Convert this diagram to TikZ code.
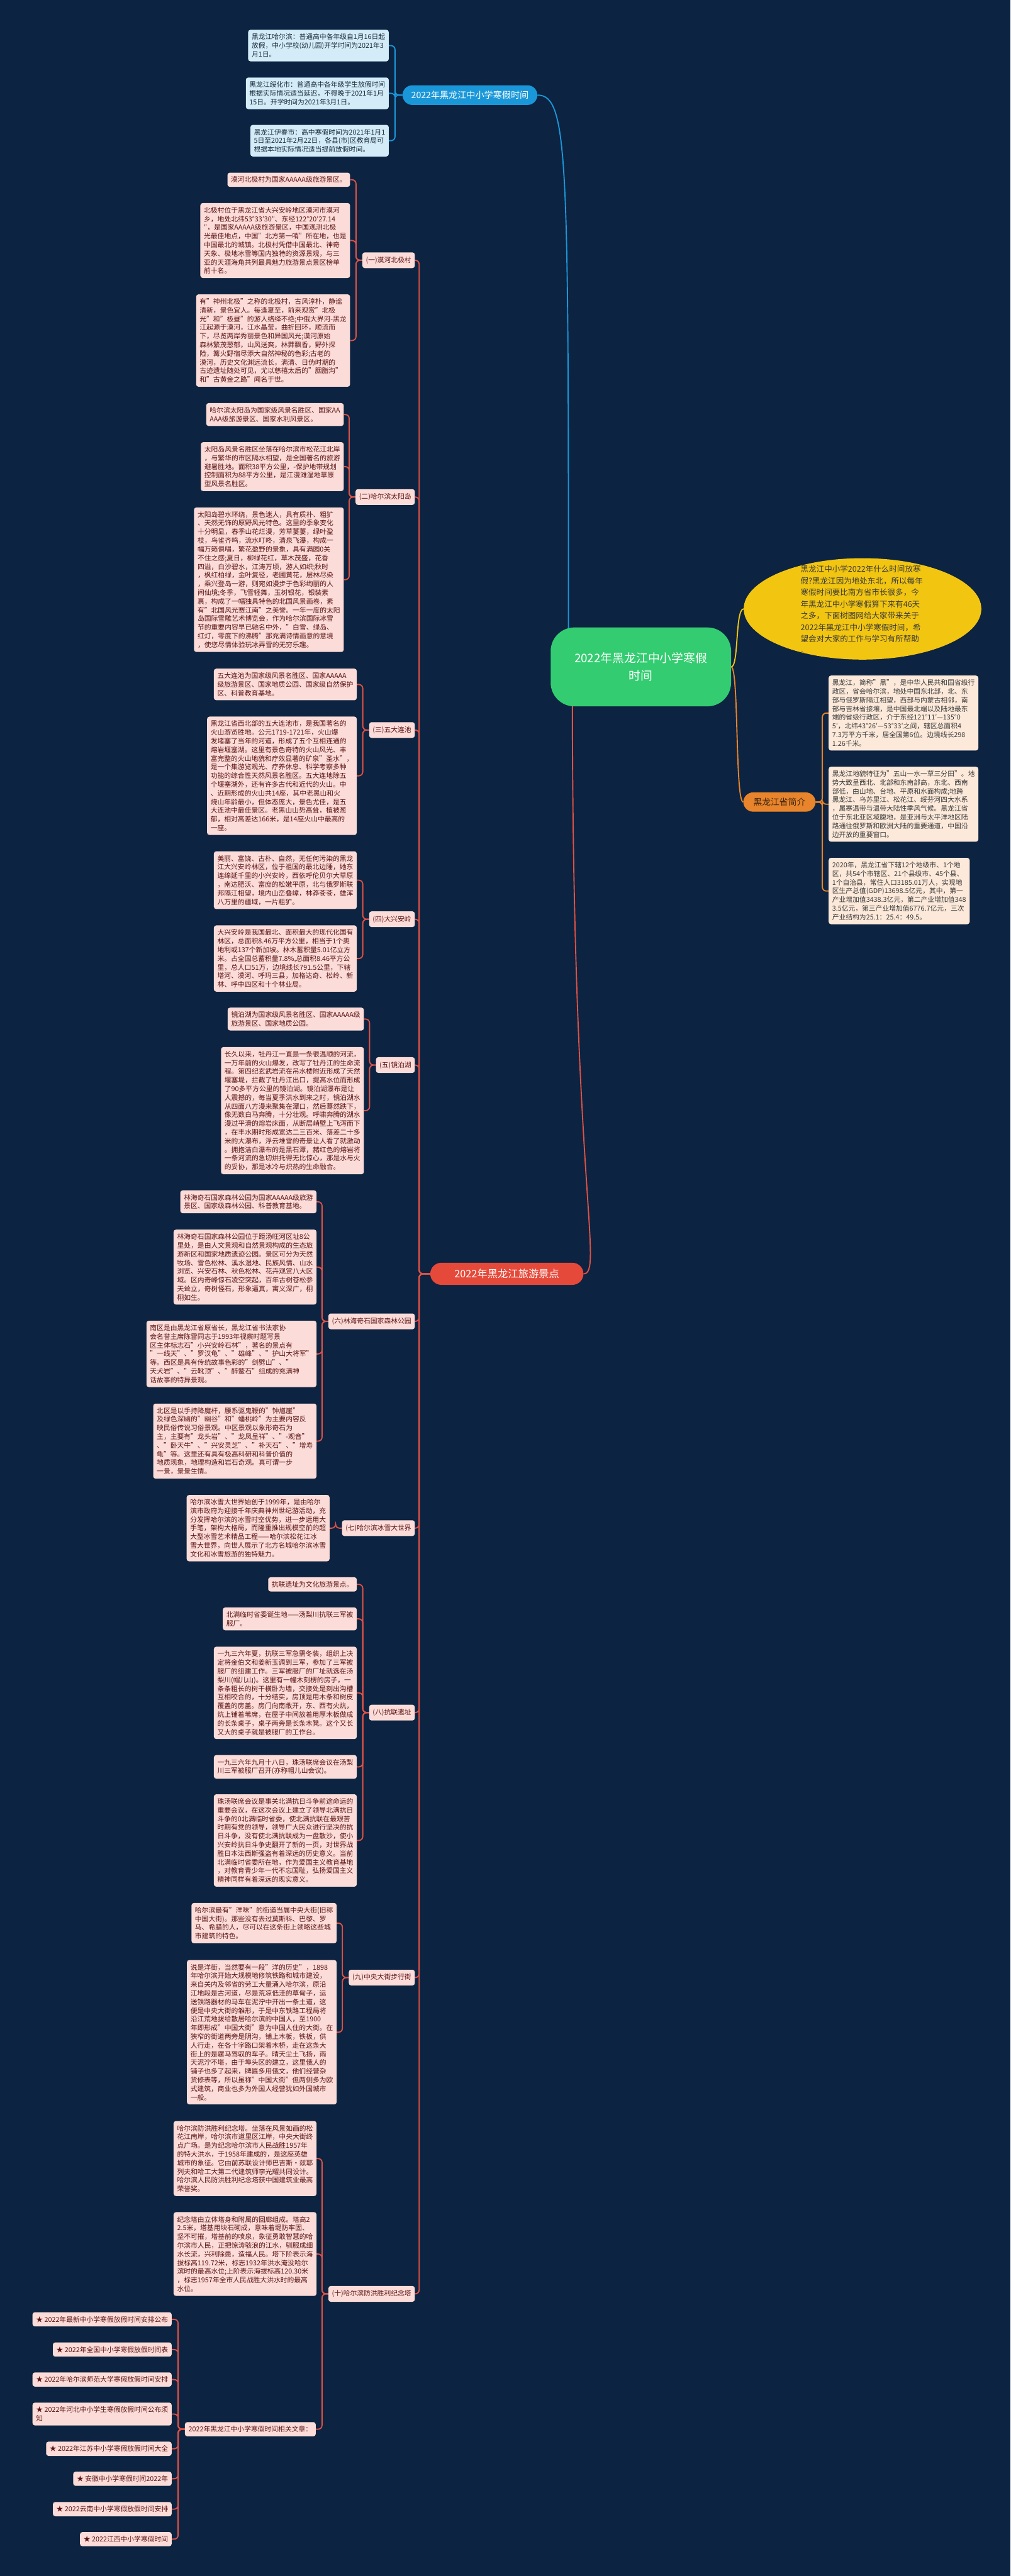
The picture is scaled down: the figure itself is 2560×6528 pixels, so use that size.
\documentclass[tikz,border=0pt]{standalone}
\usepackage{fontspec}
\setmainfont{Noto Sans CJK SC}
\usetikzlibrary{shapes.geometric}
\definecolor{bgnavy}{HTML}{0C2341}
\definecolor{rootgreen}{HTML}{33CC70}
\definecolor{topicblue}{HTML}{1A97D8}
\definecolor{leafblue}{HTML}{D3ECF8}
\definecolor{inkblue}{HTML}{1B2A3A}
\definecolor{introyellow}{HTML}{F2C511}
\definecolor{inkgrey}{HTML}{3A3A3A}
\definecolor{topicorange}{HTML}{E8842B}
\definecolor{inkbrown}{HTML}{3A2410}
\definecolor{leafpeach}{HTML}{FCE9DA}
\definecolor{topicred}{HTML}{E5493A}
\definecolor{leafpink}{HTML}{FBDCD8}
\definecolor{inkred}{HTML}{5C1414}
\definecolor{linered}{HTML}{DE5245}
\pgfdeclarelayer{bglayer}
\pgfdeclarelayer{linklayer}
\pgfsetlayers{bglayer,linklayer,main}
\tikzset{
  leafbox/.style={font=\fontsize{17.2}{22}\selectfont, align=left, inner xsep=9pt, inner ysep=10pt, rounded corners=6pt},
  pinkleaf/.style={leafbox, fill=leafpink, text=inkred, anchor=east},
  pinktopic/.style={leafbox, fill=leafpink, text=inkred, anchor=east, inner ysep=11pt},
  blueleaf/.style={leafbox, fill=leafblue, text=inkblue, anchor=east},
  peachleaf/.style={leafbox, fill=leafpeach, text=inkgrey, anchor=west},
  pilltopic/.style={align=center, inner xsep=22pt, inner ysep=0pt, rounded corners=25pt},
  redlink/.style={draw=linered, line width=3pt, rounded corners=10pt},
  bluelink/.style={draw=topicblue, line width=3pt, rounded corners=10pt},
  orangelink/.style={draw=topicorange, line width=3pt, rounded corners=10pt},
  yellowlink/.style={draw=introyellow, line width=3pt}
}
\begin{document}
\begin{tikzpicture}[x=1pt,y=-1pt]
                            % \clip (0,0) rectangle (2560.000000,6528.000000);
                            \useasboundingbox (0,0) rectangle (2560.000000,6528.000000);
                            \begin{pgfonlayer}{bglayer}
                            \fill [bgnavy] (0,0) rectangle (2560.000000,6528.000000);%
                            \end{pgfonlayer}

                            % Marking node root
                            \draw (1623.500000,1690.000000) node [fill=rootgreen, text=white, align=center, font=\fontsize{30}{44}\selectfont, minimum width=457, minimum height=200, rounded corners=60pt] (root) {2022年黑龙江中小学寒假\\时间};%

                            % Marking node holiday
                            \draw (1190.500000,241.000000) node [pilltopic, fill=topicblue, text=white, font=\fontsize{22.5}{26}\selectfont, minimum height=50] (holiday) {2022年黑龙江中小学寒假时间};%

                            % Marking node harbin
                            \draw (985.000000,115.500000) node [blueleaf] (harbin) {黑龙江哈尔滨：普通高中各年级自1月16日起\\
放假，中小学校(幼儿园)开学时间为2021年3\\
月1日。};%

                            % Marking node suihua
                            \draw (985.000000,236.500000) node [blueleaf] (suihua) {黑龙江绥化市：普通高中各年级学生放假时间\\
根据实际情况适当延迟，不得晚于2021年1月\\
15日。开学时间为2021年3月1日。};%

                            % Marking node yichun
                            \draw (985.000000,356.500000) node [blueleaf] (yichun) {黑龙江伊春市：高中寒假时间为2021年1月1\\
5日至2021年2月22日，各县(市)区教育局可\\
根据本地实际情况适当提前放假时间。};%

                            % Marking node intro
                            \draw (2185.000000,1543.000000) node [ellipse, fill=introyellow, minimum width=602, minimum height=257, inner sep=0pt] (intro) {};%
                            \draw (2183.000000,1545.000000) node [align=left, text=inkgrey, font=\fontsize{20}{29.5}\selectfont, inner sep=0pt] (introtext) {黑龙江中小学2022年什么时间放寒\\
假?黑龙江因为地处东北，所以每年\\
寒假时间要比南方省市长很多，今\\
年黑龙江中小学寒假算下来有46天\\
之多，下面树图网给大家带来关于\\
2022年黑龙江中小学寒假时间，希\\
望会对大家的工作与学习有所帮助\\
。};%

                            % Marking node brief
                            \draw (1974.500000,2032.500000) node [pilltopic, fill=topicorange, text=inkbrown, font=\fontsize{22}{26}\selectfont, minimum width=183, minimum height=49] (brief) {黑龙江省简介};%

                            % Marking node brief1
                            \draw (2099.000000,1807.000000) node [peachleaf] (brief1) {黑龙江，简称"黑"，是中华人民共和国省级行\\
政区，省会哈尔滨，地处中国东北部，北、东\\
部与俄罗斯隔江相望，西部与内蒙古相邻，南\\
部与吉林省接壤，是中国最北端以及陆地最东\\
端的省级行政区，介于东经121°11′—135°0\\
5′，北纬43°26′—53°33′之间，辖区总面积4\\
7.3万平方千米，居全国第6位。边境线长298\\
1.26千米。};%

                            % Marking node brief2
                            \draw (2099.000000,2038.000000) node [peachleaf] (brief2) {黑龙江地貌特征为"五山一水一草三分田"。地\\
势大致呈西北、北部和东南部高，东北、西南\\
部低，由山地、台地、平原和水面构成;地跨\\
黑龙江、乌苏里江、松花江、绥芬河四大水系\\
，属寒温带与温带大陆性季风气候。黑龙江省\\
位于东北亚区域腹地，是亚洲与太平洋地区陆\\
路通往俄罗斯和欧洲大陆的重要通道，中国沿\\
边开放的重要窗口。};%

                            % Marking node brief3
                            \draw (2099.000000,2258.000000) node [peachleaf] (brief3) {2020年，黑龙江省下辖12个地级市、1个地\\
区，共54个市辖区、21个县级市、45个县、\\
1个自治县，常住人口3185.01万人，实现地\\
区生产总值(GDP)13698.5亿元，其中，第一\\
产业增加值3438.3亿元，第二产业增加值348\\
3.5亿元，第三产业增加值6776.7亿元，三次\\
产业结构为25.1：25.4：49.5。};%

                            % Marking node tour
                            \draw (1284.000000,3228.000000) node [pilltopic, fill=topicred, text=white, font=\fontsize{26}{30}\selectfont, minimum width=388, minimum height=56, rounded corners=28pt] (tour) {2022年黑龙江旅游景点};%

                            % Marking node mohe
                            \draw (1051.000000,659.500000) node [pinktopic] (mohe) {(一)漠河北极村};%
                            \draw (887.000000,455.500000) node [pinkleaf] (mohe1) {漠河北极村为国家AAAAA级旅游景区。};%
                            \draw (887.000000,609.500000) node [pinkleaf] (mohe2) {北极村位于黑龙江省大兴安岭地区漠河市漠河\\
乡，地处北纬53°33′30″、东经122°20′27.14\\
″，是国家AAAAA级旅游景区，中国观测北极\\
光最佳地点，中国"北方第一哨"所在地，也是\\
中国最北的城镇。北极村凭借中国最北、神奇\\
天象、极地冰雪等国内独特的资源景观，与三\\
亚的天涯海角共列最具魅力旅游景点景区榜单\\
前十名。};%
                            \draw (887.000000,863.000000) node [pinkleaf] (mohe3) {有"神州北极"之称的北极村，古风淳朴，静谧\\
清新，景色宜人。每逢夏至，前来观赏"北极\\
光"和"极昼"的游人络绎不绝;中俄大界河-黑龙\\
江起源于漠河，江水晶莹，曲折回环，顺流而\\
下，尽览两岸秀丽景色和异国风光;漠河原始\\
森林繁茂葱郁，山风送爽，林莽飘香，野外探\\
险，篝火野宿尽添大自然神秘的色彩;古老的\\
漠河，历史文化渊远流长，满清、日伪时期的\\
古迹遗址随处可见，尤以慈禧太后的"胭脂沟"\\
和"古黄金之路"闻名于世。};%

                            % Marking node taiyang
                            \draw (1051.000000,1259.500000) node [pinktopic] (taiyang) {(二)哈尔滨太阳岛};%
                            \draw (871.000000,1050.500000) node [pinkleaf] (taiyang1) {哈尔滨太阳岛为国家级风景名胜区、国家AA\\
AAA级旅游景区、国家水利风景区。};%
                            \draw (871.000000,1182.500000) node [pinkleaf] (taiyang2) {太阳岛风景名胜区坐落在哈尔滨市松花江北岸\\
，与繁华的市区隔水相望，是全国著名的旅游\\
避暑胜地。面积38平方公里，-保护地带规划\\
控制面积为88平方公里，是江漫滩湿地草原\\
型风景名胜区。};%
                            \draw (871.000000,1469.000000) node [pinkleaf] (taiyang3) {太阳岛碧水环绕，景色迷人，具有质朴、粗犷\\
、天然无饰的原野风光特色。这里的季象变化\\
十分明显，春季山花烂漫，芳草萋萋，绿叶盈\\
枝，鸟雀齐鸣，流水叮咚，清泉飞瀑，构成一\\
幅万籁俱唱，繁花盈野的景象，具有满园0关\\
不住之感;夏日，柳绿花红，草木茂盛，花香\\
四溢，白沙碧水，江涛万顷，游人如织;秋时\\
，枫红柏绿，金叶复径，老圃黄花，层林尽染\\
，乘兴登岛一游，则宛如漫步于色彩绚丽的人\\
间仙境;冬季，飞雪轻舞，玉树银花，银装素\\
裹，构成了一幅独具特色的北国风景画卷，素\\
有"北国风光赛江南"之美誉。一年一度的太阳\\
岛国际雪雕艺术博览会，作为哈尔滨国际冰雪\\
节的重要内容早已驰名中外，"白雪、绿岛、\\
红灯，零度下的沸腾"那充满诗情画意的意境\\
，使您尽情体验玩冰弄雪的无穷乐趣。};%

                            % Marking node wuda
                            \draw (1051.000000,1850.000000) node [pinktopic] (wuda) {(三)五大连池};%
                            \draw (904.000000,1734.500000) node [pinkleaf] (wuda1) {五大连池为国家级风景名胜区、国家AAAAA\\
级旅游景区、国家地质公园、国家级自然保护\\
区、科普教育基地。};%
                            \draw (904.000000,1966.000000) node [pinkleaf] (wuda2) {黑龙江省西北部的五大连池市，是我国著名的\\
火山游览胜地。公元1719-1721年，火山爆\\
发堵塞了当年的河道，形成了五个互相连通的\\
熔岩堰塞湖。这里有景色奇特的火山风光、丰\\
富完整的火山地貌和疗效显著的矿泉"圣水"，\\
是一个集游览观光、疗养休息、科学考察多种\\
功能的综合性天然风景名胜区。五大连地除五\\
个堰塞湖外，还有许多古代和近代的火山。中\\
、近期形成的火山共14座，其中老黑山和火\\
烧山年龄最小，但体态庞大，景色尤佳，是五\\
大连池中最佳景区。老黑山山势高耸，植被葱\\
郁，相对高差达166米，是14座火山中最高的\\
一座。};%

                            % Marking node daxing
                            \draw (1051.000000,2329.500000) node [pinktopic] (daxing) {(四)大兴安岭};%
                            \draw (904.000000,2230.500000) node [pinkleaf] (daxing1) {美丽、富饶、古朴、自然，无任何污染的黑龙\\
江大兴安岭林区，位于祖国的最北边陲，她东\\
连绵延千里的小兴安岭，西依呼伦贝尔大草原\\
，南达肥沃、富庶的松嫩平原，北与俄罗斯联\\
邦隔江相望，境内山峦叠嶂，林莽苍苍，雄浑\\
八万里的疆域，一片粗犷。};%
                            \draw (904.000000,2429.000000) node [pinkleaf] (daxing2) {大兴安岭是我国最北、面积最大的现代化国有\\
林区，总面积8.46万平方公里，相当于1个奥\\
地利或137个新加坡。林木蓄积量5.01亿立方\\
米。占全国总蓄积量7.8\%,总面积8.46平方公\\
里，总人口51万，边境线长791.5公里，下辖\\
塔河、漠河、呼玛三县，加格达奇、松岭、新\\
林、呼中四区和十个林业局。};%

                            % Marking node jingpo
                            \draw (1051.000000,2699.000000) node [pinktopic] (jingpo) {(五)镜泊湖};%
                            \draw (922.000000,2582.500000) node [pinkleaf] (jingpo1) {镜泊湖为国家级风景名胜区、国家AAAAA级\\
旅游景区、国家地质公园。};%
                            \draw (922.000000,2814.500000) node [pinkleaf] (jingpo2) {长久以来，牡丹江一直是一条很温顺的河流，\\
一万年前的火山爆发，改写了牡丹江的生命流\\
程。第四纪玄武岩流在吊水楼附近形成了天然\\
堰塞堤，拦截了牡丹江出口，提高水位而形成\\
了90多平方公里的镜泊湖。镜泊湖瀑布是让\\
人震撼的，每当夏季洪水到来之时，镜泊湖水\\
从四面八方漫来聚集在潭口，然后蓦然跌下，\\
像无数白马奔腾，十分壮观。呼啸奔腾的湖水\\
漫过平滑的熔岩床面，从断层峭壁上飞泻而下\\
，在丰水期时形成宽达二三百米、落差二十多\\
米的大瀑布，浮云堆雪的奇景让人看了就激动\\
。拥抱洁白瀑布的是黑石潭，赭红色的熔岩将\\
一条河流的急切烘托得无比惊心，那是水与火\\
的妥协，那是冰冷与炽热的生命融合。};%

                            % Marking node linhai
                            \draw (1051.000000,3348.500000) node [pinktopic] (linhai) {(六)林海奇石国家森林公园};%
                            \draw (802.000000,3045.500000) node [pinkleaf] (linhai1) {林海奇石国家森林公园为国家AAAAA级旅游\\
景区、国家级森林公园、科普教育基地。};%
                            \draw (802.000000,3211.000000) node [pinkleaf] (linhai2) {林海奇石国家森林公园位于距汤旺河区址8公\\
里处，是由人文景观和自然景观构成的生态旅\\
游新区和国家地质遗迹公园。景区可分为天然\\
牧场、雪色松林、溪水湿地、民族风情、山水\\
浏览、兴安石林、秋色松林、花卉观赏八大区\\
域。区内奇峰惊石凌空突起，百年古树苍松参\\
天耸立，奇树怪石，形象逼真，寓义深广，栩\\
栩如生。};%
                            \draw (802.000000,3431.000000) node [pinkleaf] (linhai3) {南区是由黑龙江省原省长，黑龙江省书法家协\\
会名誉主席陈雷同志于1993年视察时题写景\\
区主体标志石"小兴安岭石林"，著名的景点有\\
"一线天"、"罗汉龟"、"雄峰"、"护山大将军"\\
等。西区是具有传统故事色彩的"剑劈山"、"\\
天犬岩"、"云靴顶"、"醉鳌石"组成的充满神\\
话故事的特异景观。};%
                            \draw (802.000000,3652.000000) node [pinkleaf] (linhai4) {北区是以手持降魔杆，腰系驱鬼鞭的"钟馗崖"\\
及绿色深幽的"幽谷"和"蟠桃岭"为主要内容反\\
映民俗传说习俗景观。中区景观以象形奇石为\\
主，主要有"龙头岩"、"龙凤呈祥"、"-观音"\\
、"卧天牛"、"兴安灵芝"、"补天石"、"增寿\\
龟"等。这里还有具有极高科研和科普价值的\\
地质现象，地理构造和岩石奇观。真可谓一步\\
一景，景景生情。};%

                            % Marking node bingxue
                            \draw (1051.000000,3872.500000) node [pinktopic] (bingxue) {(七)哈尔滨冰雪大世界};%
                            \draw (835.000000,3872.500000) node [pinkleaf] (bingxue1) {哈尔滨冰雪大世界始创于1999年，是由哈尔\\
滨市政府为迎接千年庆典神州世纪游活动，充\\
分发挥哈尔滨的冰雪时空优势，进一步运用大\\
手笔，架构大格局，而隆重推出规模空前的超\\
大型冰雪艺术精品工程——哈尔滨松花江冰\\
雪大世界，向世人展示了北方名城哈尔滨冰雪\\
文化和冰雪旅游的独特魅力。};%

                            % Marking node kanglian
                            \draw (1051.000000,4340.000000) node [pinktopic] (kanglian) {(八)抗联遗址};%
                            \draw (904.000000,4015.000000) node [pinkleaf] (kanglian1) {抗联遗址为文化旅游景点。};%
                            \draw (904.000000,4102.500000) node [pinkleaf] (kanglian2) {北满临时省委诞生地——汤梨川抗联三军被\\
服厂。};%
                            \draw (904.000000,4290.000000) node [pinkleaf] (kanglian3) {一九三六年夏，抗联三军急需冬装，组织上决\\
定将金伯文和姜新玉调到三军，参加了三军被\\
服厂的组建工作。三军被服厂的厂址就选在汤\\
梨川(帽儿山)。这里有一幢木刻楞的房子，一\\
条条粗长的树干横卧为墙，交接处是刻出沟槽\\
互相咬合的，十分结实，房顶是用木条和树皮\\
覆盖的房盖。房门向南敞开，东、西有火炕，\\
炕上铺着苇席，在屋子中间放着用厚木板做成\\
的长条桌子，桌子两旁是长条木凳。这个又长\\
又大的桌子就是被服厂的工作台。};%
                            \draw (904.000000,4477.500000) node [pinkleaf] (kanglian4) {一九三六年九月十八日，珠汤联席会议在汤梨\\
川三军被服厂召开(亦称帽儿山会议)。};%
                            \draw (904.000000,4664.000000) node [pinkleaf] (kanglian5) {珠汤联席会议是事关北满抗日斗争前途命运的\\
重要会议，在这次会议上建立了领导北满抗日\\
斗争的0北满临时省委，使北满抗联在最艰苦\\
时期有党的领导，领导广大民众进行坚决的抗\\
日斗争，没有使北满抗联成为一盘散沙，使小\\
兴安岭抗日斗争史翻开了新的一页，对世界战\\
胜日本法西斯强盗有着深远的历史意义。当前\\
北满临时省委所在地，作为爱国主义教育基地\\
，对教育青少年一代不忘国耻，弘扬爱国主义\\
精神同样有着深远的现实意义。};%

                            % Marking node zhongyang
                            \draw (1051.000000,5011.500000) node [pinktopic] (zhongyang) {(九)中央大街步行街};%
                            \draw (853.000000,4873.500000) node [pinkleaf] (zhongyang1) {哈尔滨最有"洋味"的街道当属中央大街(旧称\\
中国大街)。那些没有去过莫斯科、巴黎、罗\\
马、希腊的人，尽可以在这条街上领略这些城\\
市建筑的特色。};%
                            \draw (853.000000,5150.000000) node [pinkleaf] (zhongyang2) {说是洋街，当然要有一段"洋的历史"，1898\\
年哈尔滨开始大规模地修筑铁路和城市建设，\\
来自关内及邻省的劳工大量涌入哈尔滨，原沿\\
江地段是古河道，尽是荒凉低洼的草甸子，运\\
送铁路器材的马车在泥泞中开出一条土道，这\\
便是中央大街的雏形，于是中东铁路工程局将\\
沿江荒地拔给散居哈尔滨的中国人，至1900\\
年即形成"中国大街"意为中国人住的大街。在\\
狭窄的街道两旁是阴沟，铺上木板，铁板，供\\
人行走，在各十字路口架着木桥，走在这条大\\
街上的是骡马驾驭的车子。晴天尘土飞扬，雨\\
天泥泞不堪，由于埠头区的建立，这里俄人的\\
铺子也多了起来，牌匾多用俄文，他们经营杂\\
货修表等，所以虽称"中国大街"但两侧多为欧\\
式建筑，商业也多为外国人经营犹如外国城市\\
一般。};%

                            % Marking node fanghong
                            \draw (1051.000000,5813.000000) node [pinktopic] (fanghong) {(十)哈尔滨防洪胜利纪念塔};%
                            \draw (802.000000,5470.000000) node [pinkleaf] (fanghong1) {哈尔滨防洪胜利纪念塔。坐落在风景如画的松\\
花江南岸，哈尔滨市道里区江岸，中央大街终\\
点广场。是为纪念哈尔滨市人民战胜1957年\\
的特大洪水，于1958年建成的，是这座英雄\\
城市的象征。它由前苏联设计师巴吉斯·兹耶\\
列夫和哈工大第二代建筑师李光耀共同设计。\\
哈尔滨人民防洪胜利纪念塔获中国建筑业最高\\
荣誉奖。};%
                            \draw (802.000000,5712.000000) node [pinkleaf] (fanghong2) {纪念塔由立体塔身和附属的回廊组成。塔高2\\
2.5米，塔基用块石砌成，意味着堤防牢固、\\
坚不可摧，塔基前的喷泉，象征勇敢智慧的哈\\
尔滨市人民，正把惊涛骇浪的江水，驯服成细\\
水长流，兴利除患，造福人民。塔下阶表示海\\
拔标高119.72米，标志1932年洪水淹没哈尔\\
滨时的最高水位;上阶表示海拔标高120.30米\\
，标志1957年全市人民战胜大洪水时的最高\\
水位。};%
                            \draw (800.000000,6156.000000) node [pinkleaf] (related) {2022年黑龙江中小学寒假时间相关文章：};%

                            % Marking the related articles
                            \draw (435.000000,5877.500000) node [pinkleaf] (article1) {★ 2022年最新中小学寒假放假时间安排公布};%
                            \draw (435.000000,5954.000000) node [pinkleaf] (article2) {★ 2022年全国中小学寒假放假时间表};%
                            \draw (435.000000,6030.000000) node [pinkleaf] (article3) {★ 2022年哈尔滨师范大学寒假放假时间安排};%
                            \draw (435.000000,6117.500000) node [pinkleaf] (article4) {★ 2022年河北中小学生寒假放假时间公布须\\
知};%
                            \draw (435.000000,6205.500000) node [pinkleaf] (article5) {★ 2022年江苏中小学寒假放假时间大全};%
                            \draw (435.000000,6281.500000) node [pinkleaf] (article6) {★ 安徽中小学寒假时间2022年};%
                            \draw (435.000000,6358.500000) node [pinkleaf] (article7) {★ 2022云南中小学寒假放假时间安排};%
                            \draw (435.000000,6434.500000) node [pinkleaf] (article8) {★ 2022江西中小学寒假时间};%

                            \begin{pgfonlayer}{linklayer}
                            % Drawing links from root
                            \draw [bluelink] (holiday.east) .. controls (1440.000000,241.000000) and (1440.000000,400.000000) .. (1440.000000,1610.000000);%
                            \draw [yellowlink] (root.east) .. controls (1872.000000,1690.000000) and (1862.000000,1543.000000) .. (intro.west);%
                            \draw [yellowlink, draw=topicorange] (root.east) .. controls (1872.000000,1690.000000) and (1862.000000,2032.500000) .. (brief.west);%
                            \draw [redlink] (1450.000000,1770.000000) .. controls (1450.000000,3000.000000) and (1530.000000,3228.000000) .. (tour.east);%

                            % Drawing links of holiday
                            \foreach \leaf in {harbin,suihua,yichun}
                              \draw [bluelink] (holiday.west) -- ++(-19,0) |- (\leaf.east);%

                            % Drawing links of brief
                            \foreach \leaf in {brief1,brief2,brief3}
                              \draw [orangelink] (brief.east) -- ++(17,0) |- (\leaf.west);%

                            % Drawing links of tour
                            \foreach \spot in {mohe,taiyang,wuda,daxing,jingpo,linhai,bingxue,kanglian,zhongyang,fanghong}
                              \draw [redlink] (tour.west) -- ++(-28,0) |- (\spot.east);%

                            % Drawing links of each spot
                            \foreach \spot/\leaf in {mohe/mohe1,mohe/mohe2,mohe/mohe3,
                                taiyang/taiyang1,taiyang/taiyang2,taiyang/taiyang3,
                                wuda/wuda1,wuda/wuda2,daxing/daxing1,daxing/daxing2,
                                jingpo/jingpo1,jingpo/jingpo2,
                                linhai/linhai1,linhai/linhai2,linhai/linhai3,linhai/linhai4,
                                bingxue/bingxue1,
                                kanglian/kanglian1,kanglian/kanglian2,kanglian/kanglian3,kanglian/kanglian4,kanglian/kanglian5,
                                zhongyang/zhongyang1,zhongyang/zhongyang2,
                                fanghong/fanghong1,fanghong/fanghong2,fanghong/related}
                              \draw [redlink] (\spot.west) -- ++(-16,0) |- (\leaf.east);%

                            % Drawing links of related
                            \foreach \leaf in {article1,article2,article3,article4,article5,article6,article7,article8}
                              \draw [redlink] (related.west) -- ++(-17,0) |- (\leaf.east);%
                            \end{pgfonlayer}
\end{tikzpicture}
\end{document}
